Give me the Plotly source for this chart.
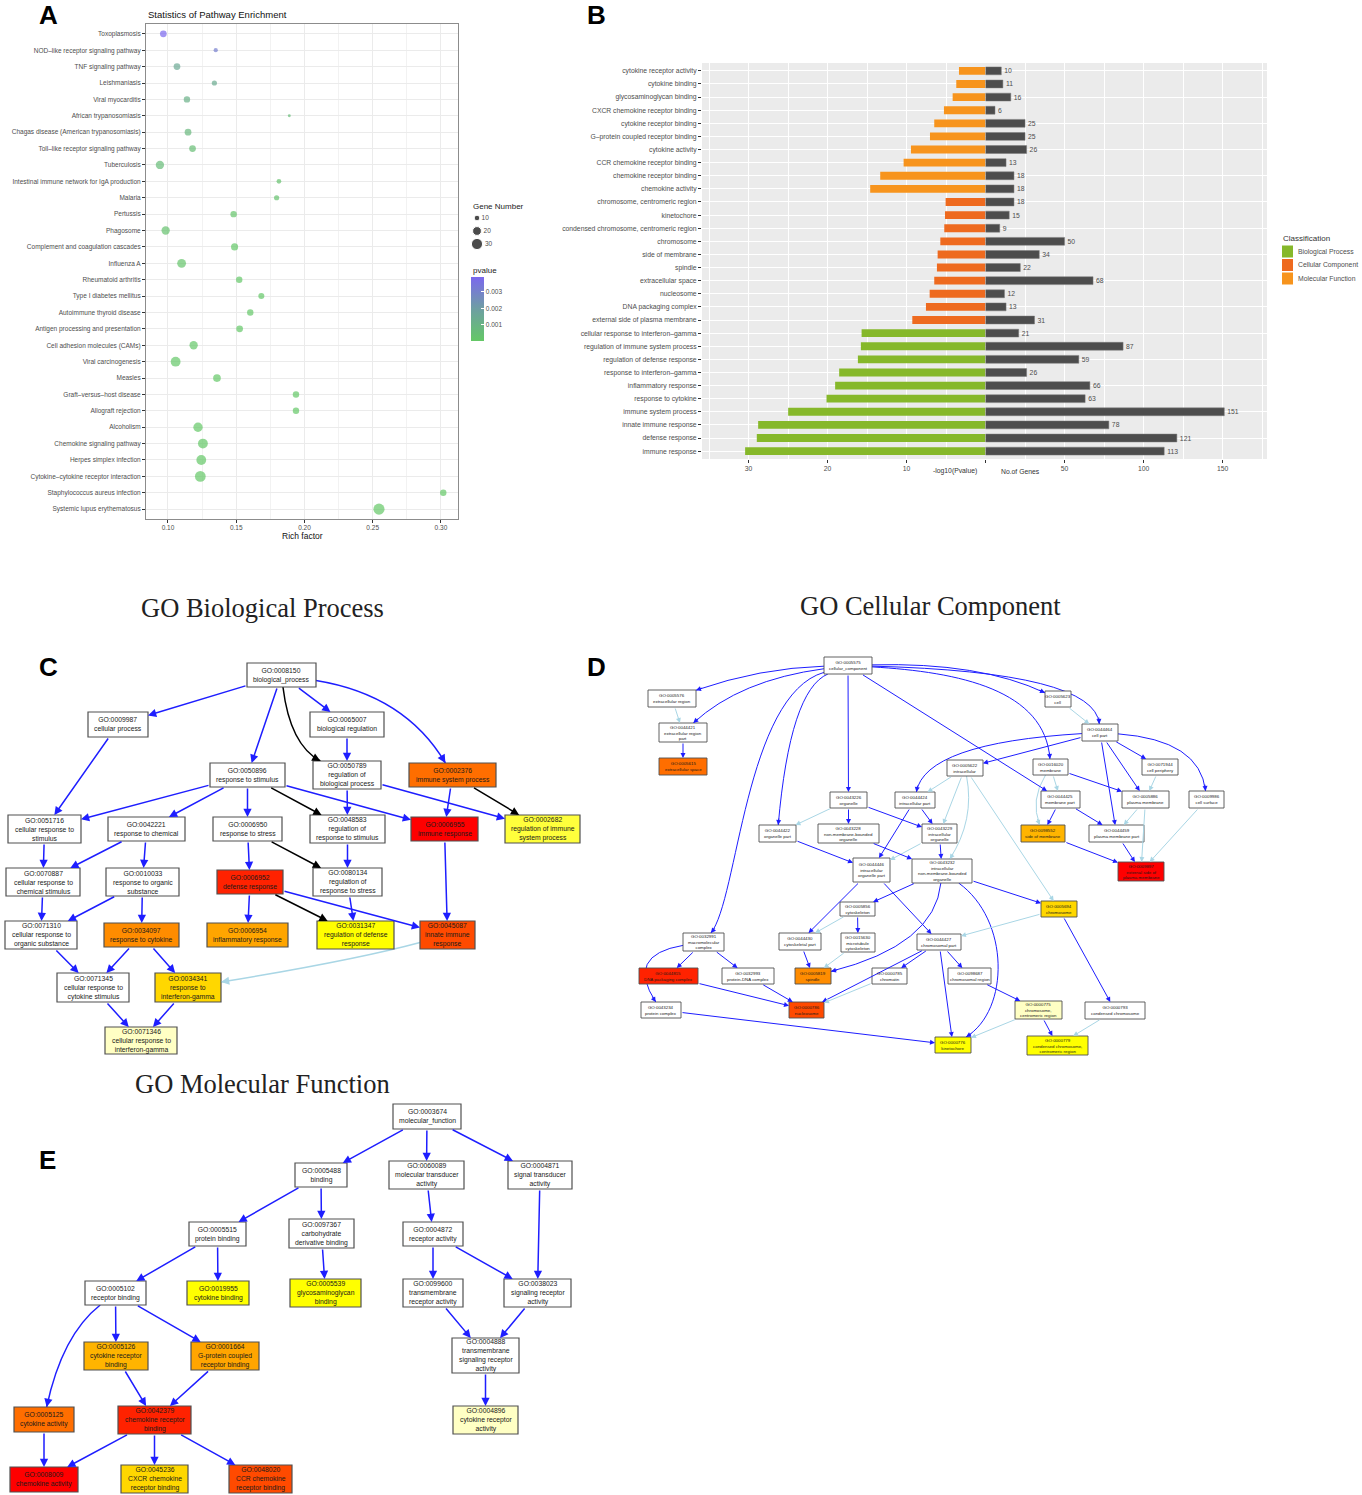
import math
import plotly.graph_objects as go

W, H = 1362, 1495
SANS = "Liberation Sans, Arial, sans-serif"
SERIF = "Liberation Serif, Times New Roman, serif"


def fx(x):
    return x / W


def fy(y):
    return 1 - y / H


# ------------------------------------------------------------------ Panel A data
pathways = [
    "Toxoplasmosis", "NOD–like receptor signaling pathway", "TNF signaling pathway",
    "Leishmaniasis", "Viral myocarditis", "African trypanosomiasis",
    "Chagas disease (American trypanosomiasis)", "Toll–like receptor signaling pathway",
    "Tuberculosis", "Intestinal immune network for IgA production", "Malaria", "Pertussis",
    "Phagosome", "Complement and coagulation cascades", "Influenza A", "Rheumatoid arthritis",
    "Type I diabetes mellitus", "Autoimmune thyroid disease",
    "Antigen processing and presentation", "Cell adhesion molecules (CAMs)",
    "Viral carcinogenesis", "Measles", "Graft–versus–host disease", "Allograft rejection",
    "Alcoholism", "Chemokine signaling pathway", "Herpes simplex infection",
    "Cytokine–cytokine receptor interaction", "Staphylococcus aureus infection",
    "Systemic lupus erythematosus",
]
rich_factor = [0.0966, 0.135, 0.1066, 0.134, 0.1139, 0.1889, 0.1147, 0.118, 0.0941, 0.1813,
               0.1796, 0.1481, 0.0983, 0.1488, 0.110, 0.1522, 0.1684, 0.1603, 0.1525, 0.1188,
               0.1056, 0.1359, 0.1938, 0.1938, 0.122, 0.1256, 0.1244, 0.1237, 0.3017, 0.2546]
gene_number = [13, 7, 13, 9, 12, 5, 13, 13, 18, 8, 9, 12, 18, 14, 20, 12, 11, 12, 13, 18,
               24, 16, 12, 12, 22, 24, 24, 28, 12, 30]
pvalue = [0.0039, 0.0031, 0.0015, 0.0014, 0.0011, 0.0006, 0.0008, 0.0005, 0.0006, 0.0003,
          0.0003, 0.0002, 0.0003, 0.0001, 0.0002, 0.0001, 0.0001, 0.0001, 0.0001, 0.00008,
          0.0001, 0.00005, 0.00005, 0.00005, 0.00004, 0.00004, 0.00003, 0.00003, 0.00003,
          0.00003]
size_legend_values = [10, 20, 30]
pvalue_ticks = [0.001, 0.002, 0.003]
rich_ticks = [0.10, 0.15, 0.20, 0.25, 0.30]

# ------------------------------------------------------------------ Panel B data
go_terms = [
    "cytokine receptor activity", "cytokine binding", "glycosaminoglycan binding",
    "CXCR chemokine receptor binding", "cytokine receptor binding",
    "G–protein coupled receptor binding", "cytokine activity", "CCR chemokine receptor binding",
    "chemokine receptor binding", "chemokine activity",
    "chromosome, centromeric region", "kinetochore", "condensed chromosome, centromeric region",
    "chromosome", "side of membrane", "spindle", "extracellular space", "nucleosome",
    "DNA packaging complex", "external side of plasma membrane",
    "cellular response to interferon–gamma", "regulation of immune system process",
    "regulation of defense response", "response to interferon–gamma", "inflammatory response",
    "response to cytokine", "immune system process", "innate immune response",
    "defense response", "immune response",
]
go_class = (["Molecular Function"] * 10 + ["Cellular Component"] * 10
            + ["Biological Process"] * 10)
neg_log10_p = [3.36, 3.70, 4.16, 5.26, 6.49, 7.03, 9.44, 10.37, 13.33, 14.60,
               5.05, 5.13, 5.22, 5.72, 6.06, 6.15, 6.49, 7.07, 7.54, 9.27,
               15.69, 15.78, 16.16, 18.53, 19.04, 20.13, 24.99, 28.79, 28.96, 30.44]
gene_counts = [10, 11, 16, 6, 25, 25, 26, 13, 18, 18,
               18, 15, 9, 50, 34, 22, 68, 12, 13, 31,
               21, 87, 59, 26, 66, 63, 151, 78, 121, 113]
classes = ["Biological Process", "Cellular Component", "Molecular Function"]
pval_ticks_b = [10, 20, 30]
gene_ticks_b = [0, 50, 100, 150]

# ------------------------------------------------------------------ GO graph data
c_ids = ["GO:0008150", "GO:0009987", "GO:0065007", "GO:0050896", "GO:0050789", "GO:0002376",
         "GO:0051716", "GO:0042221", "GO:0006950", "GO:0048583", "GO:0006955", "GO:0002682",
         "GO:0070887", "GO:0010033", "GO:0006952", "GO:0080134", "GO:0071310", "GO:0034097",
         "GO:0006954", "GO:0031347", "GO:0045087", "GO:0071345", "GO:0034341", "GO:0071346"]
c_names = ["biological_process", "cellular process", "biological regulation",
           "response to stimulus", "regulation of<br>biological process", "immune system process",
           "cellular response to<br>stimulus", "response to chemical", "response to stress",
           "regulation of<br>response to stimulus", "immune response",
           "regulation of immune<br>system process", "cellular response to<br>chemical stimulus",
           "response to organic<br>substance", "defense response",
           "regulation of<br>response to stress", "cellular response to<br>organic substance",
           "response to cytokine", "inflammatory response", "regulation of defense<br>response",
           "innate immune<br>response", "cellular response to<br>cytokine stimulus",
           "response to<br>interferon-gamma", "cellular response to<br>interferon-gamma"]
c_sig = ["", "", "", "", "", "o", "", "", "", "", "r", "y2", "", "", "r2", "", "", "do",
         "a", "y", "or", "", "g", "ly"]
c_edges = [
    ("GO:0008150", "GO:0009987", "is_a"), ("GO:0008150", "GO:0050896", "is_a"),
    ("GO:0008150", "GO:0050789", "regulates"), ("GO:0008150", "GO:0065007", "is_a"),
    ("GO:0008150", "GO:0002376", "is_a"), ("GO:0009987", "GO:0051716", "is_a"),
    ("GO:0065007", "GO:0050789", "is_a"), ("GO:0050896", "GO:0051716", "is_a"),
    ("GO:0050896", "GO:0042221", "is_a"), ("GO:0050896", "GO:0006950", "is_a"),
    ("GO:0050896", "GO:0048583", "regulates"), ("GO:0050896", "GO:0006955", "is_a"),
    ("GO:0050789", "GO:0048583", "is_a"), ("GO:0050789", "GO:0002682", "is_a"),
    ("GO:0002376", "GO:0006955", "is_a"), ("GO:0002376", "GO:0002682", "regulates"),
    ("GO:0051716", "GO:0070887", "is_a"), ("GO:0042221", "GO:0070887", "is_a"),
    ("GO:0042221", "GO:0010033", "is_a"), ("GO:0006950", "GO:0006952", "is_a"),
    ("GO:0006950", "GO:0080134", "regulates"), ("GO:0048583", "GO:0080134", "is_a"),
    ("GO:0006955", "GO:0045087", "is_a"), ("GO:0070887", "GO:0071310", "is_a"),
    ("GO:0010033", "GO:0071310", "is_a"), ("GO:0010033", "GO:0034097", "is_a"),
    ("GO:0006952", "GO:0006954", "is_a"), ("GO:0006952", "GO:0031347", "regulates"),
    ("GO:0006952", "GO:0045087", "is_a"), ("GO:0080134", "GO:0031347", "is_a"),
    ("GO:0045087", "GO:0034341", "part_of"), ("GO:0071310", "GO:0071345", "is_a"),
    ("GO:0034097", "GO:0071345", "is_a"), ("GO:0034097", "GO:0034341", "is_a"),
    ("GO:0071345", "GO:0071346", "is_a"), ("GO:0034341", "GO:0071346", "is_a"),
]

d_ids = ["GO:0005575", "GO:0005576", "GO:0044421", "GO:0005615", "GO:0005623", "GO:0044464",
         "GO:0005622", "GO:0016020", "GO:0071944", "GO:0043226", "GO:0044424", "GO:0044425",
         "GO:0005886", "GO:0009986", "GO:0044422", "GO:0043228", "GO:0043229", "GO:0098552",
         "GO:0044459", "GO:0044446", "GO:0043232", "GO:0009897", "GO:0005856", "GO:0005694",
         "GO:0032991", "GO:0044430", "GO:0015630", "GO:0044427", "GO:0044815", "GO:0032993",
         "GO:0005819", "GO:0000785", "GO:0098687", "GO:0043234", "GO:0000786", "GO:0000775",
         "GO:0000793", "GO:0000776", "GO:0000779"]
d_names = ["cellular_component", "extracellular region", "extracellular region<br>part",
           "extracellular space", "cell", "cell part", "intracellular", "membrane",
           "cell periphery", "organelle", "intracellular part", "membrane part",
           "plasma membrane", "cell surface", "organelle part",
           "non-membrane-bounded<br>organelle", "intracellular<br>organelle",
           "side of membrane", "plasma membrane part", "intracellular<br>organelle part",
           "intracellular<br>non-membrane-bounded<br>organelle",
           "external side of<br>plasma membrane", "cytoskeleton", "chromosome",
           "macromolecular<br>complex", "cytoskeletal part", "microtubule<br>cytoskeleton",
           "chromosomal part", "DNA packaging complex", "protein-DNA complex", "spindle",
           "chromatin", "chromosomal region", "protein complex", "nucleosome",
           "chromosome,<br>centromeric region", "condensed chromosome", "kinetochore",
           "condensed chromosome,<br>centromeric region"]
d_sig = ["", "", "", "o", "", "", "", "", "", "", "", "", "", "", "", "", "", "a2", "", "",
         "", "r", "", "g", "", "", "", "", "r2", "", "do", "", "", "", "or", "ly", "", "y",
         "y"]
d_edges = [
    ("GO:0005575", "GO:0005576", "is_a"), ("GO:0005575", "GO:0044421", "is_a"),
    ("GO:0005575", "GO:0005623", "is_a"), ("GO:0005575", "GO:0044464", "is_a"),
    ("GO:0005575", "GO:0016020", "is_a"), ("GO:0005575", "GO:0043226", "is_a"),
    ("GO:0005575", "GO:0044422", "is_a"), ("GO:0005575", "GO:0032991", "is_a"),
    ("GO:0005575", "GO:0044425", "is_a"), ("GO:0005576", "GO:0044421", "part_of"),
    ("GO:0044421", "GO:0005615", "is_a"), ("GO:0005623", "GO:0044464", "part_of"),
    ("GO:0044464", "GO:0005622", "is_a"), ("GO:0044464", "GO:0044424", "is_a"),
    ("GO:0044464", "GO:0044459", "is_a"), ("GO:0044464", "GO:0005886", "is_a"),
    ("GO:0044464", "GO:0071944", "is_a"), ("GO:0044464", "GO:0009986", "is_a"),
    ("GO:0016020", "GO:0005886", "is_a"), ("GO:0016020", "GO:0044425", "part_of"),
    ("GO:0016020", "GO:0098552", "part_of"), ("GO:0071944", "GO:0005886", "part_of"),
    ("GO:0044425", "GO:0098552", "is_a"), ("GO:0044425", "GO:0044459", "is_a"),
    ("GO:0005886", "GO:0044459", "part_of"), ("GO:0005886", "GO:0009897", "part_of"),
    ("GO:0009986", "GO:0009897", "part_of"), ("GO:0044459", "GO:0009897", "is_a"),
    ("GO:0098552", "GO:0009897", "is_a"), ("GO:0005622", "GO:0044424", "part_of"),
    ("GO:0005622", "GO:0043229", "part_of"), ("GO:0005622", "GO:0043232", "part_of"),
    ("GO:0005622", "GO:0005694", "part_of"), ("GO:0043226", "GO:0044422", "part_of"),
    ("GO:0043226", "GO:0043228", "is_a"), ("GO:0043226", "GO:0043229", "is_a"),
    ("GO:0044424", "GO:0043229", "is_a"), ("GO:0044424", "GO:0044446", "is_a"),
    ("GO:0043229", "GO:0044446", "part_of"), ("GO:0043229", "GO:0043232", "is_a"),
    ("GO:0043228", "GO:0043232", "is_a"), ("GO:0044422", "GO:0044446", "is_a"),
    ("GO:0044446", "GO:0044430", "is_a"), ("GO:0044446", "GO:0044427", "is_a"),
    ("GO:0043232", "GO:0005856", "is_a"), ("GO:0043232", "GO:0005819", "is_a"),
    ("GO:0043232", "GO:0000776", "is_a"), ("GO:0043232", "GO:0005694", "is_a"),
    ("GO:0005856", "GO:0044430", "part_of"), ("GO:0005856", "GO:0015630", "is_a"),
    ("GO:0015630", "GO:0005819", "part_of"), ("GO:0044430", "GO:0005819", "is_a"),
    ("GO:0005694", "GO:0044427", "part_of"), ("GO:0005694", "GO:0000793", "is_a"),
    ("GO:0044427", "GO:0000786", "is_a"), ("GO:0044427", "GO:0000785", "is_a"),
    ("GO:0044427", "GO:0098687", "is_a"), ("GO:0044427", "GO:0000776", "is_a"),
    ("GO:0000785", "GO:0000786", "part_of"), ("GO:0032991", "GO:0044815", "is_a"),
    ("GO:0032991", "GO:0032993", "is_a"), ("GO:0032991", "GO:0043234", "is_a"),
    ("GO:0044815", "GO:0000786", "is_a"), ("GO:0032993", "GO:0000786", "is_a"),
    ("GO:0043234", "GO:0000776", "is_a"), ("GO:0098687", "GO:0000775", "is_a"),
    ("GO:0000775", "GO:0000776", "part_of"), ("GO:0000775", "GO:0000779", "is_a"),
    ("GO:0000793", "GO:0000779", "part_of"),
]

e_ids = ["GO:0003674", "GO:0005488", "GO:0060089", "GO:0004871", "GO:0005515", "GO:0097367",
         "GO:0004872", "GO:0005102", "GO:0019955", "GO:0005539", "GO:0099600", "GO:0038023",
         "GO:0005126", "GO:0001664", "GO:0004888", "GO:0005125", "GO:0042379", "GO:0004896",
         "GO:0008009", "GO:0045236", "GO:0048020"]
e_names = ["molecular_function", "binding", "molecular transducer<br>activity",
           "signal transducer<br>activity", "protein binding",
           "carbohydrate<br>derivative binding", "receptor activity", "receptor binding",
           "cytokine binding", "glycosaminoglycan<br>binding",
           "transmembrane<br>receptor activity", "signaling receptor<br>activity",
           "cytokine receptor<br>binding", "G-protein coupled<br>receptor binding",
           "transmembrane<br>signaling receptor<br>activity", "cytokine activity",
           "chemokine receptor<br>binding", "cytokine receptor<br>activity",
           "chemokine activity", "CXCR chemokine<br>receptor binding",
           "CCR chemokine<br>receptor binding"]
e_sig = ["", "", "", "", "", "", "", "", "y", "y", "", "", "a2", "a", "", "o", "r2", "ly",
         "r", "g", "or"]
e_edges = [
    ("GO:0003674", "GO:0005488", "is_a"), ("GO:0003674", "GO:0060089", "is_a"),
    ("GO:0003674", "GO:0004871", "is_a"), ("GO:0005488", "GO:0005515", "is_a"),
    ("GO:0005488", "GO:0097367", "is_a"), ("GO:0060089", "GO:0004872", "is_a"),
    ("GO:0004871", "GO:0038023", "is_a"), ("GO:0005515", "GO:0005102", "is_a"),
    ("GO:0005515", "GO:0019955", "is_a"), ("GO:0097367", "GO:0005539", "is_a"),
    ("GO:0004872", "GO:0099600", "is_a"), ("GO:0004872", "GO:0038023", "is_a"),
    ("GO:0005102", "GO:0005125", "is_a"), ("GO:0005102", "GO:0005126", "is_a"),
    ("GO:0005102", "GO:0001664", "is_a"), ("GO:0099600", "GO:0004888", "is_a"),
    ("GO:0038023", "GO:0004888", "is_a"), ("GO:0005126", "GO:0042379", "is_a"),
    ("GO:0001664", "GO:0042379", "is_a"), ("GO:0004888", "GO:0004896", "is_a"),
    ("GO:0005125", "GO:0008009", "is_a"), ("GO:0042379", "GO:0008009", "is_a"),
    ("GO:0042379", "GO:0045236", "is_a"), ("GO:0042379", "GO:0048020", "is_a"),
]

# ------------------------------------------------------------------ styles / layout
HEAT = {"": "#FFFFFF", "r": "#FF0000", "r2": "#FF2200", "or": "#FF4A00", "o": "#FF6E00",
        "do": "#FF8C00", "a": "#FFA500", "a2": "#FFB400", "g": "#FFD700", "y": "#FFFF00",
        "y2": "#FFFF3C", "ly": "#FFFFC4"}
REL_COLOR = {"is_a": "#1E1EFF", "regulates": "#000000", "part_of": "#A9D6E5"}
CLASS_COLOR = {"Biological Process": "#86B82A", "Cellular Component": "#EE6A1F",
               "Molecular Function": "#F7941D"}

c_pos = {
    "GO:0008150": (247, 663, 316, 687), "GO:0009987": (88, 712, 148, 737),
    "GO:0065007": (310, 712, 384, 737), "GO:0050896": (210, 763, 285, 787),
    "GO:0050789": (313, 761, 381, 789), "GO:0002376": (409, 763, 496, 787),
    "GO:0051716": (8, 815, 81, 843), "GO:0042221": (108, 817, 185, 841),
    "GO:0006950": (213, 817, 282, 841), "GO:0048583": (310, 815, 385, 843),
    "GO:0006955": (411, 817, 478, 841), "GO:0002682": (505, 815, 580, 843),
    "GO:0070887": (6, 868, 80, 896), "GO:0010033": (106, 868, 179, 896),
    "GO:0006952": (217, 870, 283, 894), "GO:0080134": (313, 868, 382, 896),
    "GO:0071310": (5, 921, 77, 949), "GO:0034097": (104, 923, 179, 947),
    "GO:0006954": (207, 923, 288, 947), "GO:0031347": (317, 921, 394, 949),
    "GO:0045087": (420, 921, 475, 949), "GO:0071345": (57, 973, 129, 1002),
    "GO:0034341": (155, 973, 221, 1002), "GO:0071346": (105, 1027, 177, 1054),
}
c_curves = {
    ("GO:0008150", "GO:0050789"): [(290, 745)],
    ("GO:0008150", "GO:0002376"): [(405, 695)],
    ("GO:0045087", "GO:0034341"): [(355, 960)],
}
d_pos = {
    "GO:0005575": (824, 657, 872, 674), "GO:0005576": (648, 690, 696, 707),
    "GO:0044421": (659, 723, 707, 742), "GO:0005615": (659, 758, 707, 775),
    "GO:0005623": (1045, 691, 1071, 707), "GO:0044464": (1082, 724, 1118, 741),
    "GO:0005622": (947, 760, 983, 776), "GO:0016020": (1033, 759, 1068, 775),
    "GO:0071944": (1142, 759, 1178, 775), "GO:0043226": (830, 792, 867, 808),
    "GO:0044424": (895, 792, 935, 808), "GO:0044425": (1041, 791, 1080, 808),
    "GO:0005886": (1122, 791, 1169, 808), "GO:0009986": (1189, 791, 1224, 808),
    "GO:0044422": (759, 825, 796, 842), "GO:0043228": (818, 824, 879, 843),
    "GO:0043229": (922, 824, 957, 843), "GO:0098552": (1021, 825, 1065, 842),
    "GO:0044459": (1089, 825, 1144, 842), "GO:0044446": (853, 858, 890, 882),
    "GO:0043232": (912, 859, 972, 883), "GO:0009897": (1118, 862, 1164, 881),
    "GO:0005856": (840, 902, 875, 916), "GO:0005694": (1041, 901, 1077, 917),
    "GO:0032991": (683, 933, 724, 951), "GO:0044430": (779, 933, 821, 950),
    "GO:0015630": (841, 933, 875, 952), "GO:0044427": (917, 934, 961, 950),
    "GO:0044815": (639, 968, 698, 984), "GO:0032993": (722, 968, 774, 984),
    "GO:0005819": (795, 968, 831, 984), "GO:0000785": (872, 968, 907, 984),
    "GO:0098687": (948, 968, 991, 984), "GO:0043234": (641, 1002, 681, 1018),
    "GO:0000786": (789, 1002, 824, 1018), "GO:0000775": (1015, 1001, 1062, 1019),
    "GO:0000793": (1085, 1002, 1145, 1019), "GO:0000776": (935, 1037, 971, 1053),
    "GO:0000779": (1027, 1036, 1088, 1055),
}
d_curves = {
    ("GO:0005575", "GO:0005576"): [(760, 668)],
    ("GO:0005575", "GO:0044421"): [(740, 680)],
    ("GO:0005575", "GO:0044422"): [(790, 690)],
    ("GO:0005575", "GO:0032991"): [(745, 695), (738, 900)],
    ("GO:0005575", "GO:0005623"): [(980, 662)],
    ("GO:0005575", "GO:0044464"): [(1095, 672)],
    ("GO:0005575", "GO:0016020"): [(960, 672), (1045, 690)],
    ("GO:0044464", "GO:0044424"): [(925, 743)],
    ("GO:0044464", "GO:0009986"): [(1200, 740)],
    ("GO:0016020", "GO:0098552"): [(1030, 800)],
    ("GO:0005622", "GO:0043232"): [(975, 820)],
    ("GO:0043232", "GO:0005819"): [(935, 945)],
    ("GO:0043232", "GO:0000776"): [(1010, 920), (1010, 1010)],
    ("GO:0032991", "GO:0043234"): [(625, 955)],
}
e_pos = {
    "GO:0003674": (393, 1104, 461, 1129), "GO:0005488": (295, 1163, 347, 1187),
    "GO:0060089": (389, 1161, 464, 1189), "GO:0004871": (508, 1161, 572, 1189),
    "GO:0005515": (189, 1222, 246, 1246), "GO:0097367": (289, 1219, 354, 1248),
    "GO:0004872": (403, 1222, 463, 1246), "GO:0005102": (85, 1281, 146, 1305),
    "GO:0019955": (187, 1281, 249, 1305), "GO:0005539": (290, 1279, 361, 1307),
    "GO:0099600": (403, 1279, 463, 1307), "GO:0038023": (504, 1279, 571, 1307),
    "GO:0005126": (84, 1342, 148, 1370), "GO:0001664": (191, 1342, 259, 1370),
    "GO:0004888": (452, 1338, 519, 1373), "GO:0005125": (14, 1407, 74, 1432),
    "GO:0042379": (118, 1406, 191, 1434), "GO:0004896": (453, 1406, 518, 1434),
    "GO:0008009": (10, 1467, 78, 1492), "GO:0045236": (121, 1465, 188, 1493),
    "GO:0048020": (229, 1465, 292, 1493),
}
e_curves = {("GO:0005102", "GO:0005125"): [(62, 1335)]}

shapes = []
annotations = []
PX = dict(xref="x4", yref="y4")


def size_px(g):
    # ggplot-like area scale for "Gene Number"
    return 1.2 * math.sqrt(max(3.22 * g - 10.1, 4.0))


def box(pos, nid):
    x0, y0, x1, y1 = pos[nid]
    return (x0 + x1) / 2, (y0 + y1) / 2, (x1 - x0) / 2, (y1 - y0) / 2


def clip(b, tx, ty):
    cx, cy, hw, hh = b
    dx, dy = tx - cx, ty - cy
    t = min(hw / abs(dx) if dx else 1e9, hh / abs(dy) if dy else 1e9)
    return cx + dx * t, cy + dy * t


def draw_graph(ids, names, sig, edges, pos, curves, fsize, lw, asz, blw):
    for s, d, rel in edges:
        bs, bd = box(pos, s), box(pos, d)
        col = REL_COLOR[rel]
        cps = curves.get((s, d))
        arrow = dict(text="", showarrow=True, arrowhead=2, arrowsize=asz, arrowwidth=lw,
                     arrowcolor=col, standoff=0, axref="x4", ayref="y4", **PX)
        if cps is None:
            sx, sy = clip(bs, bd[0], bd[1])
            ex, ey = clip(bd, bs[0], bs[1])
            annotations.append(dict(x=ex, y=ey, ax=sx, ay=sy, **arrow))
        else:
            sx, sy = clip(bs, *cps[0])
            ex, ey = clip(bd, *cps[-1])
            if len(cps) == 1:
                path = f"M{sx},{sy} Q{cps[0][0]},{cps[0][1]} {ex},{ey}"
            else:
                path = (f"M{sx},{sy} C{cps[0][0]},{cps[0][1]} {cps[1][0]},{cps[1][1]} "
                        f"{ex},{ey}")
            shapes.append(dict(type="path", path=path, line=dict(color=col, width=lw),
                               fillcolor="rgba(0,0,0,0)", layer="above", **PX))
            lx, ly = cps[-1]
            L = math.hypot(ex - lx, ey - ly)
            ux, uy = (ex - lx) / L, (ey - ly) / L
            annotations.append(dict(x=ex, y=ey, ax=ex - ux * 8, ay=ey - uy * 8, **arrow))
    for nid, nm, s in zip(ids, names, sig):
        x0, y0, x1, y1 = pos[nid]
        shapes.append(dict(type="rect", x0=x0, y0=y0, x1=x1, y1=y1, fillcolor=HEAT[s],
                           line=dict(color="#505050", width=blw), layer="above", **PX))
        annotations.append(dict(x=(x0 + x1) / 2, y=(y0 + y1) / 2, text=f"{nid}<br>{nm}",
                                showarrow=False, xanchor="center", yanchor="middle",
                                font=dict(size=fsize, color="#1a1a1a", family=SANS), **PX))


fig = go.Figure()

# ------------------------------------------------------------------ Panel A
pscale = [[0, "#64C866"], [0.5, "#6E9FA2"], [1, "#7B68EE"]]
fig.add_trace(go.Scatter(
    x=rich_factor, y=pathways, mode="markers", xaxis="x", yaxis="y", showlegend=False,
    marker=dict(size=[size_px(g) for g in gene_number], color=pvalue, colorscale=pscale,
                cmin=0.00003, cmax=0.0039, line=dict(width=0),
                colorbar=dict(x=fx(471), xanchor="left", y=fy(341), yanchor="bottom",
                              len=64, lenmode="pixels", thickness=13, thicknessmode="pixels",
                              outlinewidth=0, xpad=0, ypad=0, tickvals=pvalue_ticks,
                              ticktext=[f"{v:.3f}" for v in pvalue_ticks], ticks="inside",
                              tickcolor="white", ticklen=3,
                              tickfont=dict(size=6.5, color="#4D4D4D", family=SANS)))))

fig.add_trace(go.Scatter(
    x=[477] * 3, y=[218 + 13 * i for i in range(3)], xaxis="x4", yaxis="y4",
    mode="markers+text", text=[str(v) for v in size_legend_values], textposition="middle right",
    textfont=dict(size=6.5, color="#4D4D4D", family=SANS), showlegend=False,
    marker=dict(size=[size_px(v) for v in size_legend_values], color="black")))
annotations.append(dict(x=471, y=206, text="Gene Number", showarrow=False, xanchor="left",
                        yanchor="middle", font=dict(size=8, color="#222"), **PX))
annotations.append(dict(x=471, y=270, text="pvalue", showarrow=False, xanchor="left",
                        yanchor="middle", font=dict(size=8, color="#222"), **PX))
annotations.append(dict(x=146, y=14, text="Statistics of Pathway Enrichment", showarrow=False,
                        xanchor="left", yanchor="middle", font=dict(size=9.5, color="#111"),
                        **PX))
annotations.append(dict(x=302, y=536, text="Rich factor", showarrow=False, xanchor="center",
                        yanchor="middle", font=dict(size=8.5, color="#111"), **PX))

# ------------------------------------------------------------------ Panel B
for cls in classes:
    idx = [i for i, c in enumerate(go_class) if c == cls]
    fig.add_trace(go.Bar(
        x=[neg_log10_p[i] for i in idx], y=[go_terms[i] for i in idx], orientation="h",
        xaxis="x2", yaxis="y2", width=0.6,
        marker=dict(color=CLASS_COLOR[cls], line=dict(width=0)), showlegend=False, name=cls))
fig.add_trace(go.Bar(
    x=gene_counts, y=go_terms, orientation="h", xaxis="x3", yaxis="y3", width=0.6,
    marker=dict(color="#4D4D4D", line=dict(color="#7A7A7A", width=0.5)),
    text=[str(v) for v in gene_counts], textposition="outside", constraintext="none",
    cliponaxis=False, textfont=dict(size=6.8, color="#4D4D4D", family=SANS), showlegend=False))

shapes.append(dict(type="rect", xref="paper", yref="paper", x0=fx(702), x1=fx(1267),
                   y0=fy(459), y1=fy(63), fillcolor="#EBEBEB", line=dict(width=0),
                   layer="below"))
annotations.append(dict(x=955, y=471, text="-log10(Pvalue)", showarrow=False,
                        xanchor="center", yanchor="middle",
                        font=dict(size=6.8, color="#333"), **PX))
annotations.append(dict(x=1020, y=471, text="No.of Genes", showarrow=False, xanchor="center",
                        yanchor="middle", font=dict(size=6.8, color="#333"), **PX))
annotations.append(dict(x=1281, y=238, text="Classification", showarrow=False, xanchor="left",
                        yanchor="middle", font=dict(size=8, color="#333"), **PX))
for i, cls in enumerate(classes):
    yc = 251.5 + 13.5 * i
    shapes.append(dict(type="rect", x0=1282, x1=1293, y0=yc - 6, y1=yc + 6,
                       fillcolor=CLASS_COLOR[cls], line=dict(width=0), layer="above", **PX))
    annotations.append(dict(x=1296, y=yc, text=cls, showarrow=False, xanchor="left",
                            yanchor="middle", font=dict(size=6.8, color="#4D4D4D"), **PX))

# ------------------------------------------------------------------ Panels C, D, E
draw_graph(c_ids, c_names, c_sig, c_edges, c_pos, c_curves, 6.8, 1.5, 1.1, 1.2)
draw_graph(d_ids, d_names, d_sig, d_edges, d_pos, d_curves, 4.4, 1.0, 1.0, 0.9)
draw_graph(e_ids, e_names, e_sig, e_edges, e_pos, e_curves, 6.8, 1.5, 1.1, 1.2)

for txt, x, y in [("GO Biological Process", 262, 608), ("GO Cellular Component", 930, 606),
                  ("GO Molecular Function", 262, 1084)]:
    annotations.append(dict(x=x, y=y, text=txt, showarrow=False, xanchor="center",
                            yanchor="middle", font=dict(size=26.5, color="#222", family=SERIF),
                            **PX))
for txt, x, y in [("A", 48, 15), ("B", 596, 15), ("C", 48, 667), ("D", 596, 667),
                  ("E", 47, 1160)]:
    annotations.append(dict(x=x, y=y, text=f"<b>{txt}</b>", showarrow=False, xanchor="center",
                            yanchor="middle", font=dict(size=26, color="#000", family=SANS),
                            **PX))

# ------------------------------------------------------------------ layout
tickfont_a = dict(size=6.5, color="#4D4D4D", family=SANS)
tickfont_b = dict(size=6.8, color="#4D4D4D", family=SANS)
fig.update_layout(
    width=W, height=H, margin=dict(l=0, r=0, t=0, b=0), paper_bgcolor="white",
    plot_bgcolor="rgba(0,0,0,0)", showlegend=False, font=dict(family=SANS),
    xaxis=dict(domain=[fx(146), fx(458)], range=[0.0839, 0.3125], anchor="y",
               tickvals=rich_ticks, ticktext=[f"{v:.2f}" for v in rich_ticks],
               showgrid=True, gridcolor="#EBEBEB", gridwidth=1,
               minor=dict(dtick=0.025, tick0=0.075, showgrid=True, gridcolor="#F2F2F2",
                          gridwidth=0.5),
               showline=True, mirror=True, linecolor="#8C8C8C", linewidth=1, zeroline=False,
               ticks="outside", ticklen=3, tickcolor="#333", tickfont=tickfont_a,
               ticklabelstandoff=-1),
    yaxis=dict(domain=[fy(519), fy(24)], type="category", categoryarray=pathways,
               range=[len(pathways) - 0.4, -0.6], anchor="x", showgrid=True,
               gridcolor="#EBEBEB", gridwidth=1, showline=True, mirror=True,
               linecolor="#8C8C8C", linewidth=1, zeroline=False, ticks="outside", ticklen=3,
               tickcolor="#333", tickfont=tickfont_a),
    xaxis2=dict(domain=[fx(702), fx(985.5)], range=[35.9, 0], anchor="y2",
                tickvals=pval_ticks_b, ticktext=[str(v) for v in pval_ticks_b],
                showgrid=True, gridcolor="white", gridwidth=1.1,
                minor=dict(dtick=5, tick0=0, showgrid=True, gridcolor="white", gridwidth=0.5),
                zeroline=False, showline=False, ticks="outside", ticklen=3, tickcolor="#333",
                tickfont=tickfont_b),
    xaxis3=dict(domain=[fx(985.5), fx(1267)], range=[0, 178], anchor="y3",
                tickvals=gene_ticks_b, ticktext=["" if v == 0 else str(v) for v in gene_ticks_b],
                showgrid=True, gridcolor="white", gridwidth=1.1,
                minor=dict(dtick=25, tick0=0, showgrid=True, gridcolor="white",
                           gridwidth=0.5),
                zeroline=False, showline=False, ticks="outside", ticklen=3, tickcolor="#333",
                tickfont=tickfont_b),
    yaxis2=dict(domain=[fy(459), fy(63)], type="category", categoryarray=go_terms,
                range=[len(go_terms) - 0.4, -0.6], anchor="x2", showgrid=True,
                gridcolor="white", gridwidth=1.1, zeroline=False, ticks="outside", ticklen=3,
                tickcolor="#333", tickfont=tickfont_b),
    yaxis3=dict(domain=[fy(459), fy(63)], type="category", categoryarray=go_terms,
                range=[len(go_terms) - 0.4, -0.6], anchor="x3", showgrid=True,
                gridcolor="white", gridwidth=1.1, zeroline=False, ticks="",
                showticklabels=False),
    xaxis4=dict(domain=[0, 1], range=[0, W], anchor="y4", visible=False, fixedrange=True),
    yaxis4=dict(domain=[0, 1], range=[H, 0], anchor="x4", visible=False, fixedrange=True),
    bargap=0.4, shapes=shapes, annotations=annotations,
)

fig.write_html("out.html", config={"displayModeBar": False},
               post_script="document.body.style.margin='0px';")
